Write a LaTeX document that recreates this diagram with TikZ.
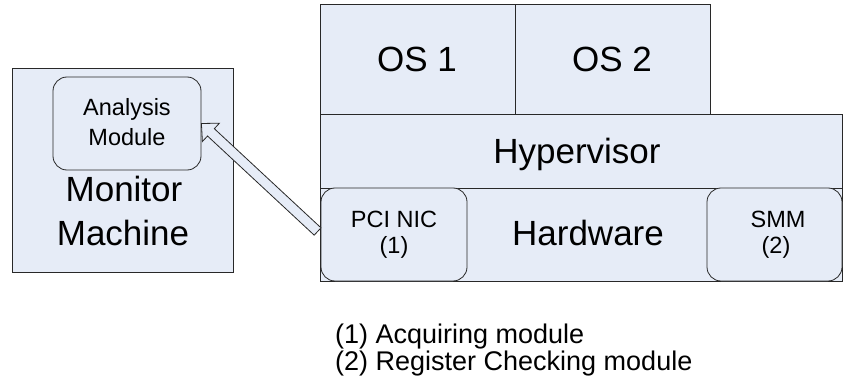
\documentclass[tikz,border=0pt]{standalone}
\usepackage{fontspec}
\setmainfont{Liberation Sans}
\usetikzlibrary{calc}
\definecolor{boxfill}{RGB}{230,236,247}
\definecolor{edge}{RGB}{40,40,40}
\begin{document}
\begin{tikzpicture}[x=1pt,y=-1pt,
  box/.style={draw=edge, fill=boxfill, line width=0.8pt, inner sep=0pt, rectangle},
  rbox/.style={box, rounded corners=14pt},
  big/.style={font=\fontsize{35}{35}\selectfont, inner sep=0pt, anchor=base},
  small/.style={font=\fontsize{23.5}{23.5}\selectfont, inner sep=0pt, anchor=base},
  legend/.style={font=\fontsize{27}{27}\selectfont, inner sep=0pt, anchor=base west},
  fatarrow/.style={draw=edge, fill=boxfill, line width=0.8pt, line join=miter}]
\useasboundingbox (0,0) rectangle (844,385);
% boxes
\node[box, minimum width=221pt, minimum height=204pt] (mon) at (122.5,170) {};
\node[rbox, minimum width=148pt, minimum height=93pt] (am) at (127,123.5) {};
\node[box, minimum width=195pt, minimum height=110pt] (os1) at (417.5,59) {};
\node[box, minimum width=195pt, minimum height=110pt] (os2) at (612.5,59) {};
\node[box, minimum width=522pt, minimum height=74pt] (hyp) at (581,151) {};
\node[box, minimum width=522pt, minimum height=93pt] (hw) at (581,234.5) {};
\node[rbox, minimum width=146pt, minimum height=93pt] (pci) at (394,234.5) {};
\node[rbox, minimum width=135pt, minimum height=93pt] (smm) at (774.5,234.5) {};
% texts
\node[big] (tmon1) at (124,201.7) {Monitor};
\node[big] (tmon2) at (123,245) {Machine};
\node[small] (tam1) at (127,115.5) {Analysis};
\node[small] (tam2) at (127,146) {Module};
\node[big] (tos1) at (417,72) {OS 1};
\node[big] (tos2) at (612,72) {OS 2};
\node[big] (thyp) at (577,163.3) {Hypervisor};
\node[big] (thw) at (588,245.7) {Hardware};
\node[small] (tpci1) at (394,228) {PCI NIC};
\node[small] (tpci2) at (394,254) {(1)};
\node[small] (tsmm1) at (778,228) {SMM};
\node[small] (tsmm2) at (776,254) {(2)};
\node[legend] (leg1) at (335,343) {(1) Acquiring module};
\node[legend] (leg2) at (335,370) {(2) Register Checking module};
% hollow arrow from PCI NIC to Analysis Module
\coordinate (T) at (am.east);
\coordinate (E) at ($(pci.west)+(-3,-3)$);
\coordinate (B) at ($(T)!13pt!(E)$);
\filldraw[fatarrow] (T) -- ($(B)!12.5pt!90:(T)$) -- ($(B)!5pt!90:(T)$)
  -- ($(E)!5pt!90:(T)$) -- ($(E)!5pt!-90:(T)$) -- ($(B)!5pt!-90:(T)$)
  -- ($(B)!12.5pt!-90:(T)$) -- cycle;
\end{tikzpicture}
\end{document}
